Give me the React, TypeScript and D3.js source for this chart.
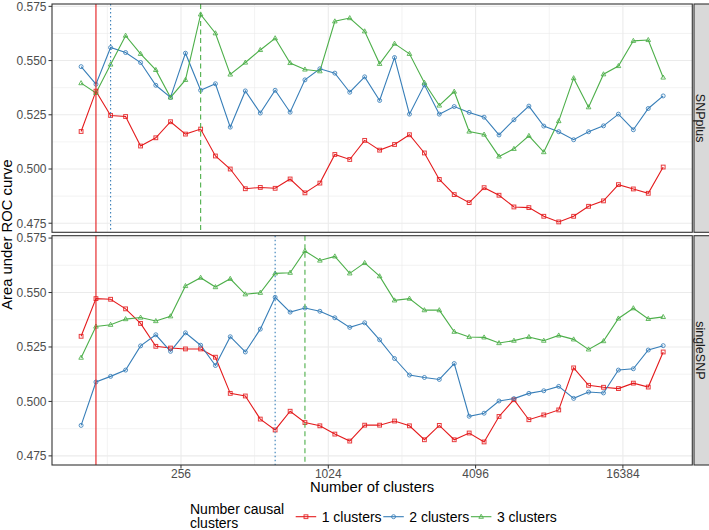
// App.tsx
// AUC vs number of clusters, faceted by SNP set (ggplot-like, drawn with d3)
import React from "react";
import * as d3 from "d3";

const clusters = [100, 115, 132, 152, 175, 202, 232, 267, 308, 354, 407, 469, 540, 621, 715, 822, 946, 1089, 1253, 1442,
  1660, 1910, 2198, 2530, 2911, 3350, 3856, 4437, 5106, 5876, 6763, 7782, 8956, 10307, 11861, 13650, 15708, 18077, 20803, 23940];

const snpplus1 = [0.5173, 0.5359, 0.5247, 0.5242, 0.5106, 0.5144, 0.5218, 0.5161, 0.5184, 0.5060, 0.5000, 0.4909, 0.4915, 0.4911, 0.4954, 0.4890, 0.4935, 0.5067, 0.5044, 0.5132,
  0.5087, 0.5113, 0.5158, 0.5074, 0.4952, 0.4882, 0.4845, 0.4914, 0.4879, 0.4825, 0.4822, 0.4782, 0.4756, 0.4782, 0.4828, 0.4853, 0.4928, 0.4908, 0.4888, 0.5009];
const snpplus2 = [0.5472, 0.5391, 0.5560, 0.5537, 0.5491, 0.5386, 0.5330, 0.5534, 0.5363, 0.5393, 0.5193, 0.5360, 0.5258, 0.5363, 0.5262, 0.5411, 0.5462, 0.5442, 0.5354, 0.5425,
  0.5316, 0.5514, 0.5253, 0.5388, 0.5253, 0.5288, 0.5261, 0.5239, 0.5157, 0.5227, 0.5290, 0.5198, 0.5172, 0.5135, 0.5172, 0.5199, 0.5253, 0.5181, 0.5279, 0.5337];
const snpplus3 = [0.5396, 0.5351, 0.5482, 0.5615, 0.5531, 0.5457, 0.5330, 0.5411, 0.5713, 0.5626, 0.5436, 0.5491, 0.5549, 0.5603, 0.5489, 0.5459, 0.5451, 0.5681, 0.5696, 0.5635,
  0.5485, 0.5578, 0.5531, 0.5398, 0.5293, 0.5357, 0.5173, 0.5159, 0.5058, 0.5093, 0.5153, 0.5078, 0.5221, 0.5419, 0.5285, 0.5437, 0.5475, 0.5591, 0.5595, 0.5422];

const single1 = [0.5299, 0.5472, 0.5469, 0.5425, 0.5358, 0.5253, 0.5245, 0.5241, 0.5241, 0.5203, 0.5037, 0.5025, 0.4919, 0.4869, 0.4955, 0.4903, 0.4888, 0.4850, 0.4818, 0.4891,
  0.4891, 0.4910, 0.4888, 0.4824, 0.4890, 0.4824, 0.4855, 0.4814, 0.4931, 0.5008, 0.4916, 0.4938, 0.4961, 0.5154, 0.5074, 0.5065, 0.5059, 0.5084, 0.5066, 0.5227];
const single2 = [0.4890, 0.5089, 0.5115, 0.5144, 0.5255, 0.5306, 0.5230, 0.5315, 0.5258, 0.5165, 0.5297, 0.5227, 0.5332, 0.5478, 0.5410, 0.5429, 0.5414, 0.5384, 0.5340, 0.5361,
  0.5283, 0.5197, 0.5121, 0.5110, 0.5101, 0.5174, 0.4932, 0.4946, 0.5002, 0.5013, 0.5037, 0.5049, 0.5069, 0.5014, 0.5043, 0.5039, 0.5144, 0.5150, 0.5236, 0.5256];
const single3 = [0.5201, 0.5344, 0.5352, 0.5378, 0.5385, 0.5369, 0.5391, 0.5530, 0.5568, 0.5525, 0.5563, 0.5492, 0.5499, 0.5588, 0.5591, 0.5691, 0.5647, 0.5666, 0.5588, 0.5636,
  0.5575, 0.5464, 0.5472, 0.5419, 0.5419, 0.5320, 0.5296, 0.5294, 0.5268, 0.5279, 0.5296, 0.5279, 0.5303, 0.5285, 0.5239, 0.5277, 0.5381, 0.5428, 0.5379, 0.5388];

// best cluster count per series (vertical lines)
const snpplusBest = [115, 132, 308];
const singleBest = [115, 621, 822];

const seriesNames = ["1 clusters", "2 clusters", "3 clusters"];
const colors = ["#E41A1C", "#377EB8", "#4DAF4A"];
const dashes = ["none", "1.5,2.5", "5,3.5"];

const xTicks = [256, 1024, 4096, 16384];
const xMinor = [128, 512, 2048, 8192];
const yTicks = [0.475, 0.5, 0.525, 0.55, 0.575];
const yMinor = [0.4875, 0.5125, 0.5375, 0.5625];

const FONT = "'Liberation Sans', Arial, Helvetica, sans-serif";
const left = 52, right = 692.3;

const panels = [
  { name: "SNPplus", top: 4, bottom: 232.3, series: [snpplus1, snpplus2, snpplus3], best: snpplusBest },
  { name: "singleSNP", top: 235.7, bottom: 465, series: [single1, single2, single3], best: singleBest },
];

function Marker({ i, x, y, c }: { i: number; x: number; y: number; c: string }) {
  const common = { fill: "none", stroke: c, strokeWidth: 1, strokeOpacity: 0.85 };
  if (i === 0) return <rect x={x - 1.9} y={y - 1.9} width={3.8} height={3.8} {...common} />;
  if (i === 1) return <circle cx={x} cy={y} r={2} {...common} />;
  return <path d={`M${x},${y - 2.5}L${x + 2.3},${y + 1.6}L${x - 2.3},${y + 1.6}Z`} {...common} />;
}

export default function App() {
  // log2 x scale with ggplot-ish 5% expansion
  const lx = d3.extent(clusters.map((c) => Math.log2(c))) as [number, number];
  const px = (lx[1] - lx[0]) * 0.05;
  const x = d3.scaleLog().base(2).domain([2 ** (lx[0] - px), 2 ** (lx[1] + px)]).range([left, right]);

  const allY = panels.flatMap((p) => p.series.flat());
  const ey = d3.extent(allY) as [number, number];
  const py = (ey[1] - ey[0]) * 0.05;
  const yDomain = [ey[0] - py, ey[1] + py];

  const bottomY = panels[1].bottom;

  return (
    <div style={{ position: "absolute", left: 0, top: 0 }}>
      <svg width={709} height={530} style={{ display: "block", background: "#fff", fontFamily: FONT }}>
        {panels.map((p, pi) => {
          const y = d3.scaleLinear().domain(yDomain).range([p.bottom, p.top]);
          const line = d3.line<number>().x((_, k) => x(clusters[k])).y((d) => y(d));
          return (
            <g key={pi}>
              <rect x={left} y={p.top} width={right - left} height={p.bottom - p.top} fill="#fff" />
              {yMinor.map((t) => (
                <line key={"ym" + t} x1={left} x2={right} y1={y(t)} y2={y(t)} stroke="#EBEBEB" strokeWidth={0.6} />
              ))}
              {xMinor.map((t) => (
                <line key={"xm" + t} x1={x(t)} x2={x(t)} y1={p.top} y2={p.bottom} stroke="#EBEBEB" strokeWidth={0.6} />
              ))}
              {yTicks.map((t) => (
                <line key={"yg" + t} x1={left} x2={right} y1={y(t)} y2={y(t)} stroke="#EBEBEB" strokeWidth={1.1} />
              ))}
              {xTicks.map((t) => (
                <line key={"xg" + t} x1={x(t)} x2={x(t)} y1={p.top} y2={p.bottom} stroke="#EBEBEB" strokeWidth={1.1} />
              ))}
              {p.series.map((s, si) => (
                <path key={"l" + si} d={line(s) || ""} fill="none" stroke={colors[si]} strokeWidth={1.1} />
              ))}
              {p.series.map((s, si) =>
                s.map((v, k) => <Marker key={`m${si}-${k}`} i={si} x={x(clusters[k])} y={y(v)} c={colors[si]} />)
              )}
              {p.best.map((b, si) => (
                <line key={"v" + si} x1={x(b)} x2={x(b)} y1={p.top} y2={p.bottom} stroke={colors[si]}
                  strokeWidth={1.1} strokeDasharray={dashes[si]} />
              ))}
              <rect x={left} y={p.top} width={right - left} height={p.bottom - p.top} fill="none" stroke="#333333" strokeWidth={1.1} />
              {/* y axis */}
              {yTicks.map((t) => (
                <g key={"yt" + t}>
                  <line x1={left - 3.5} x2={left} y1={y(t)} y2={y(t)} stroke="#333333" strokeWidth={1} />
                  <text x={left - 5.5} y={y(t)} dy="0.36em" textAnchor="end" fontSize={12} fill="#4D4D4D">
                    {d3.format(".3f")(t)}
                  </text>
                </g>
              ))}
              {/* facet strip */}
              <rect x={694} y={p.top} width={20} height={p.bottom - p.top} fill="#D9D9D9" stroke="#333333" strokeWidth={1.1} />
              <text transform={`translate(700.6,${(p.top + p.bottom) / 2}) rotate(90)`} textAnchor="middle"
                dy="0.36em" fontSize={12.5} fill="#1A1A1A">
                {p.name}
              </text>
            </g>
          );
        })}

        {/* x axis */}
        {xTicks.map((t) => (
          <g key={"xt" + t}>
            <line x1={x(t)} x2={x(t)} y1={bottomY} y2={bottomY + 3.5} stroke="#333333" strokeWidth={1} />
            <text x={x(t)} y={477.8} textAnchor="middle" fontSize={12} fill="#4D4D4D">{t}</text>
          </g>
        ))}
        <text x={(left + right) / 2} y={492} textAnchor="middle" fontSize={14.8} fill="#000">Number of clusters</text>
        <text transform={`translate(12.2,${(panels[0].top + bottomY) / 2}) rotate(-90)`} textAnchor="middle"
          fontSize={14.8} fill="#000">Area under ROC curve</text>

        {/* legend */}
        <text x={190} y={514} fontSize={14} fill="#000">Number causal</text>
        <text x={190} y={527.5} fontSize={14} fill="#000">clusters</text>
        {seriesNames.map((n, i) => {
          const kx = 295.7 + i * 87.6;
          const ky = 516.7;
          return (
            <g key={n}>
              <line x1={kx} x2={kx + 20.5} y1={ky} y2={ky} stroke={colors[i]} strokeWidth={1.1} />
              <Marker i={i} x={kx + 10.25} y={ky} c={colors[i]} />
              <text x={kx + 26} y={521.5} fontSize={14} fill="#000">{n}</text>
            </g>
          );
        })}
      </svg>
    </div>
  );
}
